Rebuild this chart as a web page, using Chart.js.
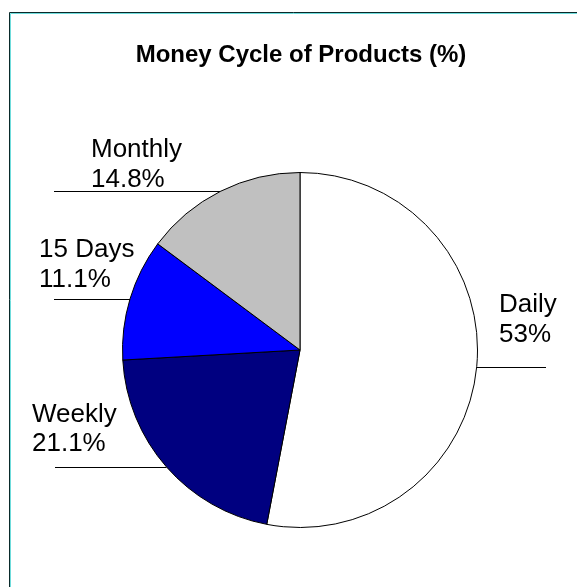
<!DOCTYPE html>
<html>
<head>
<meta charset="utf-8">
<script src="https://cdn.jsdelivr.net/npm/chart.js@4/dist/chart.umd.min.js"></script>
<style>
  html, body { margin: 0; padding: 0; background: #fff; }
  #wrap { position: relative; width: 577px; height: 587px; }
</style>
</head>
<body>
<div id="wrap"><canvas id="c" width="577" height="587"></canvas></div>
<script>
const categories = ["Daily", "Weekly", "15 Days", "Monthly"];
const values = [53, 21.1, 11.1, 14.8];
const valueLabels = ["53%", "21.1%", "11.1%", "14.8%"];
const sliceColors = ["#FFFFFF", "#000080", "#0000FF", "#C0C0C0"];
const chartTitle = "Money Cycle of Products (%)";

const FONT = '"Liberation Sans", Arial, sans-serif';

const decorPlugin = {
  id: 'decor',
  beforeDraw(chart) {
    const ctx = chart.ctx;
    ctx.save();
    ctx.fillStyle = '#fff';
    ctx.fillRect(0, 0, chart.width, chart.height);
    // frame
    ctx.lineWidth = 1;
    ctx.strokeStyle = '#0a2a2a';
    ctx.beginPath();
    ctx.moveTo(9.5, chart.height);
    ctx.lineTo(9.5, 12.5);
    ctx.lineTo(chart.width, 12.5);
    ctx.stroke();
    ctx.strokeStyle = '#6fdcdc';
    ctx.beginPath();
    ctx.moveTo(10.5, chart.height);
    ctx.lineTo(10.5, 13.5);
    ctx.lineTo(chart.width, 13.5);
    ctx.stroke();
    // title
    ctx.fillStyle = '#000';
    ctx.font = 'bold 24px ' + FONT;
    ctx.textAlign = 'center';
    ctx.textBaseline = 'alphabetic';
    ctx.fillText(chartTitle, 301, 62);
    ctx.restore();
  },
  afterDatasetsDraw(chart, args, opts) {
    const ctx = chart.ctx;
    const meta = chart.getDatasetMeta(0);
    ctx.save();
    ctx.font = '26px ' + FONT;
    ctx.fillStyle = '#000';
    ctx.textAlign = 'left';
    ctx.textBaseline = 'alphabetic';
    meta.data.forEach((arc, i) => {
      const p = arc.getProps(['x', 'y', 'startAngle', 'endAngle', 'outerRadius'], true);
      const mid = (p.startAngle + p.endAngle) / 2;
      const ax = p.x + Math.cos(mid) * p.outerRadius;
      const ay = p.y + Math.sin(mid) * p.outerRadius;
      const lay = opts.layout[i];
      const ly = Math.round(ay) + 0.5;
      ctx.strokeStyle = '#000';
      ctx.lineWidth = 1;
      ctx.beginPath();
      ctx.moveTo(ax, ly);
      ctx.lineTo(lay.lineEnd, ly);
      ctx.stroke();
      ctx.fillText(categories[i], lay.tx, lay.ty);
      ctx.fillText(valueLabels[i], lay.tx, lay.ty + lay.gap);
    });
    ctx.restore();
  }
};

new Chart(document.getElementById('c'), {
  type: 'pie',
  data: {
    labels: categories,
    datasets: [{
      data: values,
      backgroundColor: sliceColors,
      borderColor: '#000',
      borderWidth: 1
    }]
  },
  options: {
    responsive: false,
    animation: false,
    rotation: 0,
    layout: { padding: { left: 122, right: 99, top: 172, bottom: 59 } },
    plugins: {
      legend: { display: false },
      title: { display: false },
      tooltip: { enabled: false },
      decor: {
        layout: [
          { lineEnd: 546, tx: 499, ty: 312, gap: 30 },
          { lineEnd: 55, tx: 32, ty: 422, gap: 29 },
          { lineEnd: 54, tx: 39, ty: 257, gap: 30 },
          { lineEnd: 54, tx: 91, ty: 157, gap: 30 }
        ]
      }
    }
  },
  plugins: [decorPlugin]
});
</script>
</body>
</html>
